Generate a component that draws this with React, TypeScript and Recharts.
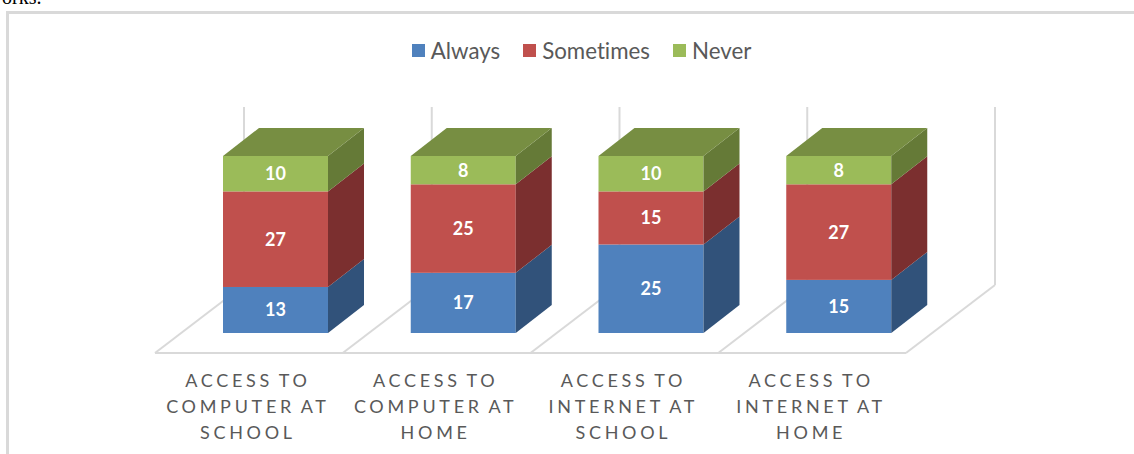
import React from "react";
import { BarChart, Bar, XAxis, YAxis, Legend, LabelList, usePlotArea } from "recharts";

const categories = [
  "ACCESS TO COMPUTER AT SCHOOL",
  "ACCESS TO COMPUTER AT HOME",
  "ACCESS TO INTERNET AT SCHOOL",
  "ACCESS TO INTERNET AT HOME",
];
const tickLines = [
  ["ACCESS TO", "COMPUTER AT", "SCHOOL"],
  ["ACCESS TO", "COMPUTER AT", "HOME"],
  ["ACCESS TO", "INTERNET AT", "SCHOOL"],
  ["ACCESS TO", "INTERNET AT", "HOME"],
];
const always = [13, 17, 25, 15];
const sometimes = [27, 25, 15, 27];
const never = [10, 8, 10, 8];

const chartData = categories.map((name, i) => ({
  name,
  Always: always[i],
  Sometimes: sometimes[i],
  Never: never[i],
}));

const FONT = "Lato, sans-serif";
const GRID = "#d9d9d9";
const DEPTH_X = 36;
const DEPTH_Y = 28;

// fake 3d bar: front face plus a side face, the top series also gets a lid
const Box = ({ x, y, width, height, fill, sideFill, topFill }: any) => {
  const r = x + width;
  return (
    <g>
      <rect x={x} y={y} width={width} height={height} fill={fill} />
      <path
        d={`M${r},${y} L${r + DEPTH_X},${y - DEPTH_Y} L${r + DEPTH_X},${y + height - DEPTH_Y} L${r},${y + height} Z`}
        fill={sideFill}
      />
      {topFill && (
        <path
          d={`M${x},${y} L${x + DEPTH_X},${y - DEPTH_Y} L${r + DEPTH_X},${y - DEPTH_Y} L${r},${y} Z`}
          fill={topFill}
        />
      )}
    </g>
  );
};

// floor diagonals and back wall uprights, worked out from the plot area
const Floor = () => {
  const plot = usePlotArea();
  if (!plot) return null;
  const band = plot.width / categories.length;
  const bottom = plot.y + plot.height;
  const frontY = bottom + 20;
  const backY = bottom - 48;
  const wallTop = plot.y - 49;
  const left = plot.x - 27;
  const steps = categories.length + 1;
  return (
    <g stroke={GRID} strokeWidth={2} fill="none">
      <line x1={left} y1={frontY} x2={left + plot.width} y2={frontY} />
      {Array.from({ length: steps }, (_, i) => {
        const fx = left + i * band;
        return (
          <g key={i}>
            <line x1={fx} y1={frontY} x2={fx + 89} y2={backY} />
            <line x1={fx + 89} y1={backY} x2={fx + 89} y2={wallTop} />
          </g>
        );
      })}
    </g>
  );
};

const CategoryTick = ({ x, y, index }: any) => (
  <text
    x={x - 28}
    y={y + 46}
    textAnchor="middle"
    fontFamily={FONT}
    fontSize={18}
    letterSpacing={3.7}
    wordSpacing={-2}
    fill="#595959"
  >
    {tickLines[index].map((line, i) => (
      <tspan key={line} x={x - 28} dy={i === 0 ? 0 : 26}>
        {line}
      </tspan>
    ))}
  </text>
);

const LegendRow = ({ payload }: any) => (
  <div
    style={{
      display: "flex",
      justifyContent: "center",
      gap: 23,
      fontFamily: FONT,
      fontSize: 22.3,
      color: "#595959",
      fontVariantLigatures: "none",
    }}
  >
    {(payload || []).map((entry: any) => (
      <span key={entry.value} style={{ display: "flex", alignItems: "center", gap: 6 }}>
        <span style={{ width: 13, height: 13, background: entry.color, display: "inline-block" }} />
        {entry.value}
      </span>
    ))}
  </div>
);

const dataLabel = { fill: "#ffffff", fontFamily: FONT, fontSize: 18, fontWeight: 700 };

export default function App() {
  return (
    <div style={{ position: "absolute", left: 0, top: 0, width: 1134, height: 454, overflow: "hidden", background: "#fff" }}>
      <div style={{ position: "absolute", left: 2, top: -14, fontFamily: "Liberation Serif", fontSize: 20, color: "#000" }}>
        orks.
      </div>
      <div style={{ position: "absolute", left: 6, top: 11, width: 1140, height: 460, borderLeft: `3px solid ${GRID}`, borderTop: `3px solid ${GRID}` }} />
      <BarChart
        width={1134}
        height={454}
        data={chartData}
        margin={{ top: 156, right: 201, left: 182, bottom: 0 }}
        barSize={105}
      >
        <Floor />
        <XAxis dataKey="name" interval={0} axisLine={false} tickLine={false} height={121} tick={<CategoryTick />} />
        <YAxis hide domain={[0, 50]} />
        <Legend
          layout="horizontal"
          align="center"
          verticalAlign="middle"
          itemSorter={null}
          content={<LegendRow />}
          wrapperStyle={{ top: 37, left: 0, width: 1163, height: 28 }}
        />
        <Bar dataKey="Always" stackId="a" fill="#4f81bd" isAnimationActive={false} shape={<Box sideFill="#31527a" />}>
          <LabelList dataKey="Always" position="center" style={dataLabel} />
        </Bar>
        <Bar dataKey="Sometimes" stackId="a" fill="#c0504d" isAnimationActive={false} shape={<Box sideFill="#7b2f2f" />}>
          <LabelList dataKey="Sometimes" position="center" style={dataLabel} />
        </Bar>
        <Bar dataKey="Never" stackId="a" fill="#9bbb59" isAnimationActive={false} shape={<Box sideFill="#657a37" topFill="#778e42" />}>
          <LabelList dataKey="Never" position="center" style={dataLabel} />
        </Bar>
      </BarChart>
    </div>
  );
}
